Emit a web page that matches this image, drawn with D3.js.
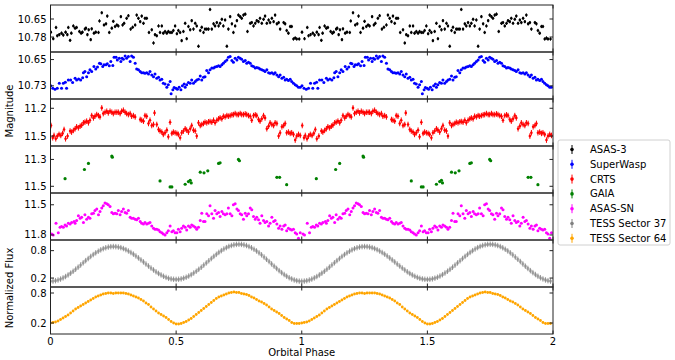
<!DOCTYPE html>
<html>
<head>
<meta charset="utf-8">
<script src="https://cdn.jsdelivr.net/npm/d3@7"></script>
<style>
  body { margin: 0; background: #fff; }
  svg { font-family: "DejaVu Sans", sans-serif; }
</style>
</head>
<body>
<div id="chart"></div>
<script>
// phase axis
const phaseTicks = [0, 0.5, 1, 1.5, 2];
const phaseTickLabels = ["0", "0.5", "1", "1.5", "2"];

// ASAS-3 (one cycle, repeated at phase + 1)
const asas3Phase = [0.001,0.011,0.022,0.027,0.035,0.044,0.051,0.060,0.067,0.071,0.078,0.083,0.091,0.098,0.104,0.115,0.122,0.127,0.137,0.141,0.147,0.152,0.160,0.164,0.173,0.180,0.191,0.195,0.204,0.213,0.221,0.226,0.234,0.244,0.250,0.257,0.264,0.270,0.280,0.287,0.293,0.303,0.310,0.319,0.327,0.337,0.343,0.350,0.357,0.363,0.370,0.376,0.383,0.392,0.403,0.410,0.416,0.423,0.430,0.436,0.443,0.449,0.456,0.463,0.469,0.476,0.483,0.489,0.496,0.503,0.509,0.516,0.522,0.529,0.536,0.542,0.549,0.556,0.562,0.569,0.576,0.582,0.589,0.596,0.602,0.609,0.615,0.622,0.629,0.635,0.642,0.649,0.655,0.662,0.669,0.675,0.682,0.688,0.695,0.702,0.708,0.715,0.722,0.728,0.735,0.742,0.748,0.755,0.761,0.768,0.775,0.784,0.795,0.801,0.808,0.815,0.821,0.828,0.834,0.841,0.848,0.854,0.861,0.868,0.874,0.881,0.888,0.894,0.901,0.908,0.914,0.928,0.934,0.940,0.947,0.954,0.960,0.967,0.974,0.980,0.990];
const asas3Mag = [10.745,10.792,10.711,10.771,10.763,10.752,10.766,10.745,10.763,10.711,10.804,10.752,10.700,10.716,10.711,10.740,10.752,10.745,10.723,10.716,10.763,10.728,10.799,10.721,10.752,10.745,10.747,10.664,10.605,10.693,10.685,10.629,10.747,10.716,10.667,10.704,10.693,10.700,10.633,10.693,10.681,10.645,10.626,10.723,10.709,10.693,10.622,10.645,10.669,10.629,10.681,10.645,10.645,10.747,10.728,10.823,10.763,10.771,10.700,10.747,10.700,10.752,10.740,10.752,10.740,10.747,10.747,10.733,10.700,10.756,10.733,10.747,10.806,10.740,10.681,10.792,10.704,10.728,10.662,10.723,10.681,10.700,10.846,10.733,10.709,10.747,10.723,10.723,10.723,10.581,10.723,10.685,10.700,10.676,10.700,10.681,10.652,10.700,10.657,10.846,10.723,10.633,10.685,10.747,10.700,10.662,10.622,10.633,10.645,10.622,10.615,10.740,10.681,10.676,10.700,10.681,10.662,10.669,10.645,10.681,10.652,10.629,10.681,10.657,10.676,10.645,10.669,10.622,10.685,10.676,10.723,10.676,10.685,10.733,10.752,10.704,10.704,10.794,10.787,10.794,10.794];
const asas3Err = 0.012;

// SuperWASP
const swaspPhase = [0.001,0.009,0.018,0.027,0.035,0.044,0.051,0.059,0.064,0.071,0.080,0.088,0.098,0.104,0.112,0.120,0.128,0.131,0.137,0.144,0.151,0.157,0.164,0.173,0.180,0.187,0.195,0.200,0.208,0.213,0.221,0.226,0.234,0.240,0.248,0.253,0.261,0.266,0.274,0.280,0.285,0.290,0.297,0.303,0.310,0.317,0.323,0.330,0.337,0.343,0.350,0.357,0.363,0.370,0.376,0.383,0.390,0.396,0.403,0.410,0.416,0.423,0.430,0.436,0.443,0.449,0.456,0.463,0.469,0.476,0.480,0.487,0.492,0.499,0.505,0.512,0.519,0.525,0.532,0.536,0.542,0.549,0.556,0.562,0.569,0.576,0.582,0.589,0.596,0.602,0.609,0.615,0.622,0.629,0.635,0.642,0.649,0.655,0.662,0.669,0.675,0.682,0.688,0.695,0.702,0.708,0.715,0.722,0.728,0.735,0.742,0.748,0.755,0.761,0.768,0.775,0.781,0.788,0.795,0.801,0.808,0.815,0.821,0.828,0.834,0.841,0.848,0.854,0.861,0.868,0.874,0.881,0.888,0.894,0.901,0.908,0.914,0.921,0.928,0.934,0.940,0.947,0.954,0.960,0.967,0.974,0.980,0.987,0.994];
const swaspMag = [10.730,10.737,10.740,10.737,10.722,10.737,10.722,10.719,10.737,10.712,10.712,10.720,10.707,10.712,10.709,10.712,10.705,10.690,10.686,10.702,10.690,10.681,10.686,10.671,10.679,10.673,10.661,10.663,10.671,10.666,10.666,10.663,10.669,10.656,10.668,10.643,10.643,10.651,10.646,10.656,10.646,10.649,10.639,10.646,10.641,10.656,10.639,10.643,10.661,10.679,10.681,10.686,10.690,10.690,10.692,10.690,10.694,10.686,10.697,10.702,10.694,10.707,10.704,10.712,10.710,10.722,10.724,10.734,10.727,10.717,10.754,10.742,10.735,10.737,10.740,10.734,10.742,10.730,10.724,10.734,10.727,10.720,10.722,10.712,10.722,10.717,10.712,10.710,10.700,10.712,10.704,10.702,10.683,10.690,10.681,10.676,10.676,10.673,10.671,10.669,10.671,10.666,10.661,10.656,10.651,10.643,10.641,10.653,10.658,10.646,10.651,10.643,10.646,10.649,10.656,10.653,10.661,10.658,10.661,10.669,10.671,10.676,10.674,10.676,10.679,10.681,10.683,10.686,10.681,10.690,10.692,10.690,10.694,10.690,10.697,10.702,10.697,10.707,10.704,10.712,10.710,10.714,10.710,10.717,10.722,10.727,10.730,10.734,10.734];
const swaspErr = 0.001;

// CRTS
const crtsPhase = [0.002,0.009,0.014,0.021,0.027,0.034,0.041,0.048,0.054,0.060,0.068,0.078,0.084,0.091,0.098,0.104,0.111,0.118,0.124,0.131,0.137,0.144,0.151,0.157,0.164,0.171,0.177,0.184,0.191,0.197,0.204,0.210,0.217,0.224,0.230,0.237,0.244,0.250,0.257,0.264,0.270,0.277,0.283,0.290,0.297,0.303,0.310,0.317,0.323,0.330,0.337,0.357,0.363,0.370,0.376,0.383,0.390,0.396,0.403,0.410,0.414,0.423,0.430,0.436,0.443,0.449,0.456,0.463,0.469,0.476,0.483,0.489,0.496,0.503,0.509,0.516,0.522,0.529,0.536,0.542,0.549,0.556,0.562,0.569,0.576,0.582,0.589,0.596,0.602,0.609,0.615,0.622,0.629,0.635,0.642,0.649,0.655,0.662,0.669,0.675,0.682,0.688,0.695,0.702,0.708,0.715,0.722,0.728,0.735,0.742,0.748,0.755,0.761,0.768,0.775,0.781,0.788,0.795,0.801,0.808,0.815,0.821,0.828,0.834,0.841,0.848,0.854,0.861,0.868,0.874,0.881,0.888,0.894,0.901,0.908,0.914,0.921,0.928,0.934,0.940,0.947,0.954,0.960,0.967,0.974,0.980,0.987,0.994];
const crtsMag = [11.386,11.518,11.493,11.529,11.500,11.482,11.493,11.471,11.429,11.529,11.500,11.446,11.457,11.439,11.421,11.400,11.411,11.393,11.382,11.357,11.350,11.339,11.357,11.329,11.279,11.304,11.286,11.268,11.279,11.293,11.196,11.257,11.243,11.232,11.250,11.232,11.243,11.257,11.243,11.243,11.243,11.257,11.232,11.221,11.243,11.257,11.268,11.257,11.286,11.279,11.293,11.321,11.329,11.339,11.279,11.286,11.364,11.329,11.386,11.375,11.250,11.375,11.429,11.446,11.457,11.482,11.464,11.436,11.507,11.350,11.471,11.457,11.464,11.471,11.482,11.518,11.464,11.446,11.421,11.436,11.457,11.421,11.386,11.436,11.446,11.500,11.357,11.386,11.375,11.364,11.350,11.357,11.346,11.343,11.350,11.329,11.357,11.329,11.314,11.304,11.314,11.286,11.293,11.279,11.286,11.279,11.271,11.268,11.257,11.268,11.268,11.257,11.268,11.268,11.261,11.268,11.279,11.286,11.329,11.279,11.271,11.279,11.321,11.339,11.314,11.279,11.304,11.421,11.393,11.357,11.375,11.386,11.357,11.364,11.500,11.464,11.400,11.386,11.364,11.464,11.457,11.471,11.464,11.482,11.543,11.500,11.482,11.493];
const crtsErr = 0.03;

// GAIA
const gaiaPhase = [0.058,0.135,0.151,0.244,0.246,0.436,0.476,0.483,0.536,0.549,0.556,0.560,0.596,0.611,0.626,0.669,0.675,0.748,0.752,0.901,0.912,0.940];
const gaiaMag = [11.443,11.375,11.330,11.275,11.283,11.460,11.505,11.505,11.485,11.465,11.455,11.475,11.395,11.400,11.385,11.330,11.325,11.300,11.310,11.433,11.433,11.488];
const gaiaErr = 0.004;

// ASAS-SN
const asassnPhase = [0.005,0.011,0.022,0.031,0.038,0.044,0.051,0.058,0.064,0.071,0.078,0.084,0.094,0.098,0.104,0.111,0.118,0.124,0.131,0.137,0.144,0.151,0.157,0.164,0.171,0.177,0.184,0.191,0.197,0.204,0.210,0.217,0.224,0.230,0.237,0.244,0.250,0.257,0.264,0.270,0.277,0.283,0.290,0.297,0.303,0.310,0.317,0.323,0.330,0.337,0.343,0.350,0.357,0.363,0.370,0.376,0.383,0.390,0.396,0.403,0.410,0.416,0.423,0.430,0.436,0.443,0.449,0.456,0.463,0.469,0.476,0.483,0.489,0.496,0.503,0.509,0.516,0.522,0.529,0.536,0.542,0.549,0.556,0.562,0.569,0.576,0.582,0.589,0.596,0.602,0.609,0.615,0.622,0.629,0.635,0.642,0.649,0.655,0.662,0.669,0.675,0.682,0.688,0.695,0.702,0.708,0.715,0.722,0.728,0.735,0.742,0.748,0.755,0.761,0.768,0.775,0.781,0.788,0.795,0.801,0.808,0.815,0.821,0.828,0.834,0.841,0.848,0.854,0.861,0.868,0.874,0.881,0.888,0.894,0.901,0.908,0.914,0.921,0.928,0.934,0.940,0.947,0.954,0.960,0.967,0.974,0.980,0.987,0.994];
const asassnMag = [11.790,11.800,11.683,11.777,11.723,11.717,11.723,11.700,11.710,11.683,11.690,11.677,11.667,11.683,11.657,11.610,11.633,11.623,11.677,11.600,11.643,11.623,11.633,11.590,11.583,11.557,11.543,11.600,11.567,11.533,11.510,11.483,11.490,11.500,11.517,11.577,11.590,11.583,11.590,11.557,11.600,11.567,11.543,11.577,11.583,11.557,11.623,11.633,11.633,11.643,11.650,11.633,11.667,11.683,11.690,11.677,11.690,11.683,11.677,11.710,11.733,11.743,11.743,11.750,11.767,11.777,11.790,11.800,11.777,11.757,11.710,11.767,11.757,11.777,11.777,11.743,11.767,11.733,11.710,11.723,11.750,11.710,11.723,11.700,11.710,11.723,11.743,11.723,11.657,11.583,11.667,11.667,11.590,11.610,11.510,11.590,11.633,11.557,11.590,11.577,11.617,11.567,11.590,11.600,11.590,11.533,11.590,11.610,11.500,11.490,11.543,11.557,11.590,11.600,11.643,11.583,11.610,11.590,11.533,11.550,11.617,11.643,11.623,11.650,11.683,11.610,11.657,11.677,11.667,11.710,11.683,11.623,11.667,11.657,11.690,11.733,11.710,11.743,11.710,11.700,11.757,11.733,11.743,11.750,11.743,11.777,11.790,11.833,11.777];
const asassnErr = 0.004;

// TESS, binned at phase steps of 0.01
const tessPhase = d3.range(100).map(i => i / 100);
const tess37Flux = [0.130,0.133,0.142,0.157,0.177,0.203,0.233,0.268,0.306,0.348,0.393,0.439,0.486,0.534,0.581,0.627,0.672,0.714,0.752,0.787,0.817,0.843,0.863,0.878,0.887,0.890,0.887,0.879,0.865,0.845,0.821,0.792,0.759,0.723,0.683,0.641,0.597,0.553,0.507,0.463,0.419,0.377,0.337,0.301,0.268,0.239,0.215,0.195,0.181,0.173,0.170,0.173,0.182,0.197,0.218,0.244,0.274,0.310,0.349,0.391,0.436,0.483,0.531,0.579,0.627,0.674,0.719,0.761,0.800,0.836,0.866,0.892,0.913,0.928,0.937,0.940,0.937,0.927,0.912,0.890,0.863,0.830,0.793,0.752,0.708,0.660,0.611,0.561,0.509,0.459,0.410,0.362,0.318,0.277,0.240,0.207,0.180,0.158,0.143,0.133];
const tess37Err = 0.06;
const tess64Flux = [0.20,0.21,0.22,0.24,0.27,0.30,0.33,0.36,0.40,0.44,0.48,0.51,0.54,0.57,0.60,0.63,0.66,0.69,0.72,0.74,0.76,0.78,0.79,0.80,0.80,0.79,0.80,0.80,0.80,0.80,0.79,0.78,0.76,0.74,0.72,0.70,0.67,0.64,0.60,0.57,0.52,0.48,0.44,0.40,0.37,0.34,0.31,0.27,0.23,0.20,0.18,0.18,0.19,0.21,0.23,0.26,0.29,0.33,0.37,0.41,0.45,0.49,0.53,0.57,0.61,0.65,0.69,0.72,0.74,0.76,0.78,0.80,0.81,0.82,0.81,0.81,0.79,0.78,0.77,0.75,0.72,0.70,0.67,0.64,0.62,0.59,0.56,0.52,0.48,0.45,0.42,0.39,0.35,0.31,0.28,0.25,0.21,0.19,0.19,0.19];
const tess64Err = 0.004;

// y ticks per panel
const asas3Ticks = [10.65, 10.78];
const swaspTicks = [10.65, 10.73];
const crtsTicks = [11.2, 11.5];
const gaiaTicks = [11.3, 11.5];
const asassnTicks = [11.5, 11.8];
const tess37Ticks = [0.2, 0.8];
const tess64Ticks = [0.2, 0.8];

const legendLabels = ["ASAS-3", "SuperWasp", "CRTS", "GAIA", "ASAS-SN", "TESS Sector 37", "TESS Sector 64"];

function init() {
    const w = 675, h = 360;
    const left = 50.5, right = 553, top = 5, panelH = 47;

    const panels = [
        {phase: asas3Phase, val: asas3Mag, err: asas3Err, ticks: asas3Ticks, domain: [10.549, 10.888], mag: true, color: "#000000", r: 1.3},
        {phase: swaspPhase, val: swaspMag, err: swaspErr, ticks: swaspTicks, domain: [10.627, 10.770], mag: true, color: "#0000ff", r: 1.5},
        {phase: crtsPhase, val: crtsMag, err: crtsErr, ticks: crtsTicks, domain: [11.10, 11.607], mag: true, color: "#ff0000", r: 1.3},
        {phase: gaiaPhase, val: gaiaMag, err: gaiaErr, ticks: gaiaTicks, domain: [11.20, 11.55], mag: true, color: "#008000", r: 1.6},
        {phase: asassnPhase, val: asassnMag, err: asassnErr, ticks: asassnTicks, domain: [11.383, 11.85], mag: true, color: "#ff00ff", r: 1.5},
        {phase: tessPhase, val: tess37Flux, err: tess37Err, ticks: tess37Ticks, domain: [0.004, 1.033], mag: false, color: "#808080", r: 1.6},
        {phase: tessPhase, val: tess64Flux, err: tess64Err, ticks: tess64Ticks, domain: [-0.02, 0.92], mag: false, color: "#ffa500", r: 1.4}
    ];

    const x = d3.scaleLinear().domain([0, 2]).range([left, right]);

    const svg = d3.select("#chart").append("svg")
        .attr("width", w)
        .attr("height", h);

    panels.forEach(function (p, i) {
        const y0 = top + i * panelH;
        const y = d3.scaleLinear()
            .domain(p.domain)
            .range(p.mag ? [y0, y0 + panelH] : [y0 + panelH, y0]);

        svg.append("clipPath").attr("id", "clip" + i)
            .append("rect")
            .attr("x", left).attr("y", y0)
            .attr("width", right - left).attr("height", panelH);

        // two cycles of the same light curve
        const pts = [];
        [0, 1].forEach(function (off) {
            for (let k = 0; k < p.phase.length; k++) {
                pts.push({ph: p.phase[k] + off, v: p.val[k]});
            }
        });

        const g = svg.append("g").attr("clip-path", "url(#clip" + i + ")");

        g.selectAll("line.err")
            .data(pts)
            .enter().append("line")
            .attr("class", "err")
            .attr("x1", d => x(d.ph)).attr("x2", d => x(d.ph))
            .attr("y1", d => y(d.v - p.err)).attr("y2", d => y(d.v + p.err))
            .attr("stroke", p.color)
            .attr("stroke-width", i === 5 ? 0.8 : 1);

        g.selectAll("circle")
            .data(pts)
            .enter().append("circle")
            .attr("cx", d => x(d.ph))
            .attr("cy", d => y(d.v))
            .attr("r", p.r)
            .attr("fill", p.color)
            .attr("opacity", i === 5 ? 0.6 : 1);

        // frame
        svg.append("rect")
            .attr("x", left).attr("y", y0)
            .attr("width", right - left).attr("height", panelH)
            .attr("fill", "none")
            .attr("stroke", "#222")
            .attr("stroke-width", 1);

        // y ticks, inward on both sides
        p.ticks.forEach(function (t) {
            const ty = y(t);
            svg.append("line").attr("x1", left).attr("x2", left + 3.5)
                .attr("y1", ty).attr("y2", ty).attr("stroke", "#222");
            svg.append("line").attr("x1", right).attr("x2", right - 3.5)
                .attr("y1", ty).attr("y2", ty).attr("stroke", "#222");
            svg.append("text")
                .attr("x", left - 4)
                .attr("y", ty)
                .attr("dy", "0.35em")
                .attr("text-anchor", "end")
                .attr("font-size", 10)
                .attr("fill", "#000")
                .text(d3.format(p.mag ? ".2f" : ".1f")(t).replace(/(\.\d)0$/, "$1"));
        });

        // x ticks, inward top and bottom
        phaseTicks.forEach(function (t) {
            svg.append("line").attr("x1", x(t)).attr("x2", x(t))
                .attr("y1", y0).attr("y2", y0 + 3.5).attr("stroke", "#222");
            svg.append("line").attr("x1", x(t)).attr("x2", x(t))
                .attr("y1", y0 + panelH).attr("y2", y0 + panelH - 3.5).attr("stroke", "#222");
        });
    });

    const bottom = top + panels.length * panelH;

    svg.selectAll("text.xtick")
        .data(phaseTicks)
        .enter().append("text")
        .attr("class", "xtick")
        .attr("x", d => x(d))
        .attr("y", bottom + 11)
        .attr("text-anchor", "middle")
        .attr("font-size", 10)
        .text((d, i) => phaseTickLabels[i]);

    svg.append("text")
        .attr("x", (left + right) / 2)
        .attr("y", bottom + 22)
        .attr("text-anchor", "middle")
        .attr("font-size", 10)
        .text("Orbital Phase");

    svg.append("text")
        .attr("transform", "translate(13,111) rotate(-90)")
        .attr("text-anchor", "middle")
        .attr("font-size", 10)
        .text("Magnitude");

    svg.append("text")
        .attr("transform", "translate(13,288) rotate(-90)")
        .attr("text-anchor", "middle")
        .attr("font-size", 10)
        .text("Normalized Flux");

    // Legend
    const lg = svg.append("g").attr("transform", "translate(558,140)");
    lg.append("rect")
        .attr("width", 112).attr("height", 105)
        .attr("rx", 2)
        .attr("fill", "#fff")
        .attr("stroke", "#d0d0d0");
    legendLabels.forEach(function (lab, i) {
        const ly = 9.5 + i * 14.8;
        lg.append("line")
            .attr("x1", 14).attr("x2", 14)
            .attr("y1", ly - 4.5).attr("y2", ly + 4.5)
            .attr("stroke", panels[i].color).attr("stroke-width", 1);
        lg.append("circle")
            .attr("cx", 14).attr("cy", ly).attr("r", 1.8)
            .attr("fill", panels[i].color);
        lg.append("text")
            .attr("x", 32).attr("y", ly)
            .attr("dy", "0.35em")
            .attr("font-size", 10)
            .text(lab);
    });
}

window.onload = init;
</script>
</body>
</html>
